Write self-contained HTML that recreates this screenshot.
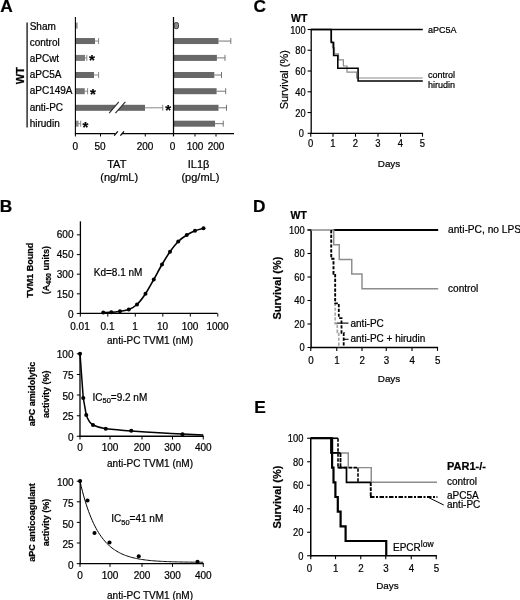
<!DOCTYPE html>
<html><head><meta charset="utf-8"><title>Figure</title>
<style>
html,body{margin:0;padding:0;background:#fff;}
svg{display:block;font-family:"Liberation Sans", sans-serif;}
text{stroke:#000;stroke-width:0.22px;}
</style></head><body>
<svg width="520" height="600" viewBox="0 0 520 600">
<defs><filter id="soft" x="0" y="0" width="520" height="600" filterUnits="userSpaceOnUse"><feGaussianBlur stdDeviation="0.36"/></filter></defs>
<rect width="520" height="600" fill="#fff"/>
<g filter="url(#soft)">
<text x="0.2" y="12.2" font-size="17.3" text-anchor="start" font-weight="bold" fill="#000">A</text>
<text x="-0.2" y="212.0" font-size="17.3" text-anchor="start" font-weight="bold" fill="#000">B</text>
<text x="253.4" y="12.35" font-size="17.3" text-anchor="start" font-weight="bold" fill="#000">C</text>
<text x="253" y="212" font-size="17.3" text-anchor="start" font-weight="bold" fill="#000">D</text>
<text x="254.2" y="413.3" font-size="17.3" text-anchor="start" font-weight="bold" fill="#000">E</text>
<line x1="27.1" y1="22.5" x2="27.1" y2="127.5" stroke="#222" stroke-width="1.4"/>
<text x="24.4" y="75.6" font-size="11" text-anchor="middle" font-weight="bold" transform="rotate(-90 24.4 75.6)" fill="#000">WT</text>
<text x="29.7" y="30" font-size="10" text-anchor="start" fill="#000">Sham</text>
<text x="29.7" y="45.7" font-size="10" text-anchor="start" fill="#000">control</text>
<text x="29.7" y="62.1" font-size="10" text-anchor="start" fill="#000">aPCwt</text>
<text x="29.7" y="78.1" font-size="10" text-anchor="start" fill="#000">aPC5A</text>
<text x="29.7" y="94.4" font-size="10" text-anchor="start" fill="#000">aPC149A</text>
<text x="29.7" y="110.6" font-size="10" text-anchor="start" fill="#000">anti-PC</text>
<text x="29.7" y="126.9" font-size="10" text-anchor="start" fill="#000">hirudin</text>
<rect x="75.4" y="22.6" width="2.1999999999999886" height="6" fill="#8a8a8a"/>
<rect x="75.4" y="38.05" width="19.599999999999994" height="6" fill="#676767"/>
<line x1="95" y1="41.05" x2="98.6" y2="41.05" stroke="#7a7a7a" stroke-width="0.9"/>
<line x1="98.6" y1="38.05" x2="98.6" y2="44.05" stroke="#7a7a7a" stroke-width="0.9"/>
<rect x="75.4" y="54.9" width="9.599999999999994" height="6" fill="#7a7a7a"/>
<line x1="85" y1="57.9" x2="86.8" y2="57.9" stroke="#7a7a7a" stroke-width="0.9"/>
<line x1="86.8" y1="54.9" x2="86.8" y2="60.9" stroke="#7a7a7a" stroke-width="0.9"/>
<rect x="75.4" y="72.0" width="18.599999999999994" height="6" fill="#676767"/>
<line x1="94" y1="75" x2="98.6" y2="75" stroke="#7a7a7a" stroke-width="0.9"/>
<line x1="98.6" y1="72" x2="98.6" y2="78" stroke="#7a7a7a" stroke-width="0.9"/>
<rect x="75.4" y="88.2" width="9.349999999999994" height="6" fill="#747474"/>
<line x1="84.75" y1="91.2" x2="87.6" y2="91.2" stroke="#7a7a7a" stroke-width="0.9"/>
<line x1="87.6" y1="88.2" x2="87.6" y2="94.2" stroke="#7a7a7a" stroke-width="0.9"/>
<rect x="75.4" y="104.8" width="69.6" height="6" fill="#676767"/>
<line x1="145" y1="107.8" x2="162.75" y2="107.8" stroke="#7a7a7a" stroke-width="0.9"/>
<line x1="162.75" y1="104.8" x2="162.75" y2="110.8" stroke="#7a7a7a" stroke-width="0.9"/>
<rect x="75.4" y="120.7" width="3.1999999999999886" height="6" fill="#8a8a8a"/>
<line x1="78.6" y1="123.7" x2="80.7" y2="123.7" stroke="#7a7a7a" stroke-width="0.9"/>
<line x1="80.7" y1="120.7" x2="80.7" y2="126.7" stroke="#7a7a7a" stroke-width="0.9"/>
<polygon points="109.2,113.1 118.8,101.9 125.4,101.9 115.4,113.1" fill="#fff"/>
<line x1="109.2" y1="113.1" x2="118.8" y2="101.9" stroke="#2a2a2a" stroke-width="1.1"/>
<line x1="115.4" y1="113.1" x2="125.4" y2="101.9" stroke="#2a2a2a" stroke-width="1.1"/>
<line x1="75.4" y1="17" x2="75.4" y2="134.2" stroke="#000" stroke-width="1.1"/>
<rect x="114.6" y="131.6" width="7.4" height="4" fill="#fff"/>
<line x1="74.9" y1="133.6" x2="115" y2="133.6" stroke="#000" stroke-width="1.3"/>
<line x1="121.9" y1="133.6" x2="234" y2="133.6" stroke="#000" stroke-width="1.3"/>
<line x1="114.2" y1="135.6" x2="117.8" y2="131.4" stroke="#000" stroke-width="1.25"/>
<line x1="120.4" y1="135.6" x2="124.0" y2="131.4" stroke="#000" stroke-width="1.25"/>
<line x1="75.4" y1="133.6" x2="75.4" y2="136.5" stroke="#000" stroke-width="1"/>
<line x1="100.5" y1="133.6" x2="100.5" y2="136.5" stroke="#000" stroke-width="1"/>
<line x1="145.25" y1="133.6" x2="145.25" y2="136.5" stroke="#000" stroke-width="1"/>
<text x="75.3" y="150" font-size="10" text-anchor="middle" fill="#000">0</text>
<text x="100" y="150" font-size="10" text-anchor="middle" fill="#000">50</text>
<text x="145" y="150" font-size="10" text-anchor="middle" fill="#000">200</text>
<text x="116.8" y="168" font-size="11" text-anchor="middle" fill="#000">TAT</text>
<text x="119.2" y="181" font-size="11" text-anchor="middle" fill="#000">(ng/mL)</text>
<text x="91.8" y="64.8" font-size="15" text-anchor="middle" font-weight="bold" fill="#000">*</text>
<text x="92.8" y="98.55" font-size="15" text-anchor="middle" font-weight="bold" fill="#000">*</text>
<text x="85.3" y="131.7" font-size="15" text-anchor="middle" font-weight="bold" fill="#000">*</text>
<text x="168.20000000000002" y="115.1" font-size="15" text-anchor="middle" font-weight="bold" fill="#000">*</text>
<rect x="174.1" y="22.5" width="4.4" height="6.2" rx="1.8" fill="#8a8a8a" stroke="#444" stroke-width="1"/>
<rect x="173.5" y="38.05" width="45.0" height="6" fill="#676767"/>
<line x1="218.5" y1="41.05" x2="230.8" y2="41.05" stroke="#666" stroke-width="0.9"/>
<line x1="230.8" y1="38.05" x2="230.8" y2="44.05" stroke="#666" stroke-width="0.9"/>
<rect x="173.5" y="54.9" width="43.400000000000006" height="6" fill="#676767"/>
<line x1="216.9" y1="57.9" x2="225" y2="57.9" stroke="#666" stroke-width="0.9"/>
<line x1="225" y1="54.9" x2="225" y2="60.9" stroke="#666" stroke-width="0.9"/>
<rect x="173.5" y="72.0" width="40.80000000000001" height="6" fill="#676767"/>
<line x1="214.3" y1="75" x2="221.5" y2="75" stroke="#666" stroke-width="0.9"/>
<line x1="221.5" y1="72" x2="221.5" y2="78" stroke="#666" stroke-width="0.9"/>
<rect x="173.5" y="88.2" width="43.099999999999994" height="6" fill="#676767"/>
<line x1="216.6" y1="91.2" x2="225.7" y2="91.2" stroke="#666" stroke-width="0.9"/>
<line x1="225.7" y1="88.2" x2="225.7" y2="94.2" stroke="#666" stroke-width="0.9"/>
<rect x="173.5" y="104.8" width="45.0" height="6" fill="#676767"/>
<line x1="218.5" y1="107.8" x2="226.5" y2="107.8" stroke="#666" stroke-width="0.9"/>
<line x1="226.5" y1="104.8" x2="226.5" y2="110.8" stroke="#666" stroke-width="0.9"/>
<rect x="173.5" y="120.7" width="41.5" height="6" fill="#676767"/>
<line x1="215" y1="123.7" x2="223.25" y2="123.7" stroke="#666" stroke-width="0.9"/>
<line x1="223.25" y1="120.7" x2="223.25" y2="126.7" stroke="#666" stroke-width="0.9"/>
<line x1="173.5" y1="17" x2="173.5" y2="136.4" stroke="#000" stroke-width="1.25"/>
<line x1="195" y1="133.6" x2="195" y2="136.5" stroke="#000" stroke-width="1"/>
<line x1="216" y1="133.6" x2="216" y2="136.5" stroke="#000" stroke-width="1"/>
<text x="172.5" y="150" font-size="10" text-anchor="middle" fill="#000">0</text>
<text x="195" y="150" font-size="10" text-anchor="middle" fill="#000">100</text>
<text x="216" y="150" font-size="10" text-anchor="middle" fill="#000">200</text>
<text x="198.6" y="168" font-size="11" text-anchor="middle" fill="#000">IL1β</text>
<text x="200.4" y="181" font-size="11" text-anchor="middle" fill="#000">(pg/mL)</text>
<text x="291" y="21.5" font-size="10.5" text-anchor="start" font-weight="bold" fill="#000">WT</text>
<line x1="307.59999999999997" y1="29.5" x2="311.2" y2="29.5" stroke="#000" stroke-width="1.1"/>
<text transform="translate(305.60 33.50) scale(0.9 1)" font-size="10.3" text-anchor="end" fill="#000">100</text>
<line x1="307.59999999999997" y1="50.260000000000005" x2="311.2" y2="50.260000000000005" stroke="#000" stroke-width="1.1"/>
<text transform="translate(305.60 54.26) scale(0.9 1)" font-size="10.3" text-anchor="end" fill="#000">80</text>
<line x1="307.59999999999997" y1="71.02000000000001" x2="311.2" y2="71.02000000000001" stroke="#000" stroke-width="1.1"/>
<text transform="translate(305.60 75.02) scale(0.9 1)" font-size="10.3" text-anchor="end" fill="#000">60</text>
<line x1="307.59999999999997" y1="91.78" x2="311.2" y2="91.78" stroke="#000" stroke-width="1.1"/>
<text transform="translate(305.60 95.78) scale(0.9 1)" font-size="10.3" text-anchor="end" fill="#000">40</text>
<line x1="307.59999999999997" y1="112.54" x2="311.2" y2="112.54" stroke="#000" stroke-width="1.1"/>
<text transform="translate(305.60 116.54) scale(0.9 1)" font-size="10.3" text-anchor="end" fill="#000">20</text>
<line x1="307.59999999999997" y1="133.3" x2="311.2" y2="133.3" stroke="#000" stroke-width="1.1"/>
<text transform="translate(304.00 137.30) scale(0.9 1)" font-size="10.3" text-anchor="end" fill="#000">0</text>
<line x1="310.75" y1="133.3" x2="310.75" y2="136.70000000000002" stroke="#000" stroke-width="1.1"/>
<text transform="translate(310.75 146.90) scale(0.92 1)" font-size="10.3" text-anchor="middle" fill="#000">0</text>
<line x1="333" y1="133.3" x2="333" y2="136.70000000000002" stroke="#000" stroke-width="1.1"/>
<text transform="translate(333.00 146.90) scale(0.92 1)" font-size="10.3" text-anchor="middle" fill="#000">1</text>
<line x1="355.5" y1="133.3" x2="355.5" y2="136.70000000000002" stroke="#000" stroke-width="1.1"/>
<text transform="translate(355.50 146.90) scale(0.92 1)" font-size="10.3" text-anchor="middle" fill="#000">2</text>
<line x1="378" y1="133.3" x2="378" y2="136.70000000000002" stroke="#000" stroke-width="1.1"/>
<text transform="translate(378.00 146.90) scale(0.92 1)" font-size="10.3" text-anchor="middle" fill="#000">3</text>
<line x1="400.5" y1="133.3" x2="400.5" y2="136.70000000000002" stroke="#000" stroke-width="1.1"/>
<text transform="translate(400.50 146.90) scale(0.92 1)" font-size="10.3" text-anchor="middle" fill="#000">4</text>
<line x1="422.5" y1="133.3" x2="422.5" y2="136.70000000000002" stroke="#000" stroke-width="1.1"/>
<text transform="translate(422.50 146.90) scale(0.92 1)" font-size="10.3" text-anchor="middle" fill="#000">5</text>
<line x1="311.2" y1="28.9" x2="311.2" y2="134.0" stroke="#000" stroke-width="1.3"/>
<line x1="310.5" y1="133.3" x2="423.1" y2="133.3" stroke="#000" stroke-width="1.3"/>
<text x="288.1" y="79.7" font-size="11" text-anchor="middle" transform="rotate(-90 288.1 79.7)" fill="#000">Survival (%)</text>
<text x="389" y="167" font-size="9.9" text-anchor="middle" fill="#000">Days</text>
<path d="M310.75,29.5 H330.75 V41.7 H332.5 V47.8 H334.5 V53.85 H338.5 V59.9 H343.4 V66 H347 V72.1 H356.6 V78.0 H422.8" fill="none" stroke="#8c8c8c" stroke-width="1.2"/>
<path d="M310.75,29.5 H331.3 V42.4 H333.6 V55.4 H337.8 V68.3 H358.1 V80.9 H422.8" fill="none" stroke="#000" stroke-width="1.55"/>
<line x1="310.75" y1="29.4" x2="422.8" y2="29.4" stroke="#000" stroke-width="1.5"/>
<text x="428" y="32.8" font-size="9" text-anchor="start" fill="#000">aPC5A</text>
<text x="428" y="78.2" font-size="9" text-anchor="start" fill="#000">control</text>
<text x="428" y="88" font-size="9" text-anchor="start" fill="#000">hirudin</text>
<text x="290.5" y="219.3" font-size="10.5" text-anchor="start" font-weight="bold" fill="#000">WT</text>
<line x1="307.5" y1="230.0" x2="311.1" y2="230.0" stroke="#000" stroke-width="1.1"/>
<text transform="translate(304.70 233.70) scale(0.9 1)" font-size="10.4" text-anchor="end" fill="#000">100</text>
<line x1="307.5" y1="253.5" x2="311.1" y2="253.5" stroke="#000" stroke-width="1.1"/>
<text transform="translate(304.70 257.20) scale(0.9 1)" font-size="10.4" text-anchor="end" fill="#000">80</text>
<line x1="307.5" y1="277.0" x2="311.1" y2="277.0" stroke="#000" stroke-width="1.1"/>
<text transform="translate(304.70 280.70) scale(0.9 1)" font-size="10.4" text-anchor="end" fill="#000">60</text>
<line x1="307.5" y1="300.5" x2="311.1" y2="300.5" stroke="#000" stroke-width="1.1"/>
<text transform="translate(304.70 304.20) scale(0.9 1)" font-size="10.4" text-anchor="end" fill="#000">40</text>
<line x1="307.5" y1="324.0" x2="311.1" y2="324.0" stroke="#000" stroke-width="1.1"/>
<text transform="translate(304.70 327.70) scale(0.9 1)" font-size="10.4" text-anchor="end" fill="#000">20</text>
<line x1="307.5" y1="347.5" x2="311.1" y2="347.5" stroke="#000" stroke-width="1.1"/>
<text transform="translate(304.70 351.20) scale(0.9 1)" font-size="10.4" text-anchor="end" fill="#000">0</text>
<line x1="310.75" y1="347.5" x2="310.75" y2="350.9" stroke="#000" stroke-width="1.1"/>
<text transform="translate(311.05 363.80) scale(0.93 1)" font-size="10.5" text-anchor="middle" fill="#000">0</text>
<line x1="336.75" y1="347.5" x2="336.75" y2="350.9" stroke="#000" stroke-width="1.1"/>
<text transform="translate(337.05 363.80) scale(0.93 1)" font-size="10.5" text-anchor="middle" fill="#000">1</text>
<line x1="362" y1="347.5" x2="362" y2="350.9" stroke="#000" stroke-width="1.1"/>
<text transform="translate(362.30 363.80) scale(0.93 1)" font-size="10.5" text-anchor="middle" fill="#000">2</text>
<line x1="386.25" y1="347.5" x2="386.25" y2="350.9" stroke="#000" stroke-width="1.1"/>
<text transform="translate(386.55 363.80) scale(0.93 1)" font-size="10.5" text-anchor="middle" fill="#000">3</text>
<line x1="412" y1="347.5" x2="412" y2="350.9" stroke="#000" stroke-width="1.1"/>
<text transform="translate(412.30 363.80) scale(0.93 1)" font-size="10.5" text-anchor="middle" fill="#000">4</text>
<line x1="437.5" y1="347.5" x2="437.5" y2="350.9" stroke="#000" stroke-width="1.1"/>
<text transform="translate(437.80 363.80) scale(0.93 1)" font-size="10.5" text-anchor="middle" fill="#000">5</text>
<line x1="311.1" y1="229.4" x2="311.1" y2="348.2" stroke="#000" stroke-width="1.5"/>
<line x1="310.40000000000003" y1="347.5" x2="438.1" y2="347.5" stroke="#000" stroke-width="1.5"/>
<text x="280.8" y="288" font-size="11" text-anchor="middle" font-weight="bold" transform="rotate(-90 280.8 288)" fill="#000">Survival (%)</text>
<text x="389.0" y="381.8" font-size="9.9" text-anchor="middle" fill="#000">Days</text>
<line x1="333" y1="230" x2="438.2" y2="230" stroke="#000" stroke-width="1.95"/>
<path d="M310.75,230 H333.75 V244.7 H339.25 V259.4 H351.75 V274 H362 V288.75 H438.2" fill="none" stroke="#8c8c8c" stroke-width="1.45"/>
<path d="M331.25,230 V258.75 H333.5 V273.75 H335.2 V323.7 H337.3 V332.4 H338.8 V347.5" fill="none" stroke="#a8a8a8" stroke-width="1.7" stroke-dasharray="3.2 1.6"/>
<path d="M331.25,230 V258.75 H333.5 V273.75 H335.2 V303.4 H338.8 V318.1 H341.5 V332.8 H343.7 V347.5" fill="none" stroke="#000" stroke-width="1.8" stroke-dasharray="3.2 1.6"/>
<line x1="307.5" y1="230" x2="311.1" y2="230" stroke="#000" stroke-width="1.1"/>
<line x1="336.6" y1="323.1" x2="348.5" y2="323.1" stroke="#000" stroke-width="1.1"/>
<text x="350.5" y="326.8" font-size="10" text-anchor="start" fill="#000">anti-PC</text>
<line x1="343.1" y1="339.3" x2="348.5" y2="339.3" stroke="#000" stroke-width="1.1"/>
<text x="350.5" y="341.8" font-size="10" text-anchor="start" fill="#000">anti-PC + hirudin</text>
<text x="448" y="232.8" font-size="10.2" text-anchor="start" fill="#000">anti-PC, no LPS</text>
<text x="448" y="291.6" font-size="10.1" text-anchor="start" fill="#000">control</text>
<line x1="307.15" y1="438.25" x2="310.75" y2="438.25" stroke="#000" stroke-width="1.1"/>
<text transform="translate(303.45 442.45) scale(0.9 1)" font-size="10.4" text-anchor="end" fill="#000">100</text>
<line x1="307.15" y1="461.75" x2="310.75" y2="461.75" stroke="#000" stroke-width="1.1"/>
<text transform="translate(303.45 465.95) scale(0.9 1)" font-size="10.4" text-anchor="end" fill="#000">80</text>
<line x1="307.15" y1="485.25" x2="310.75" y2="485.25" stroke="#000" stroke-width="1.1"/>
<text transform="translate(303.45 489.45) scale(0.9 1)" font-size="10.4" text-anchor="end" fill="#000">60</text>
<line x1="307.15" y1="508.75" x2="310.75" y2="508.75" stroke="#000" stroke-width="1.1"/>
<text transform="translate(303.45 512.95) scale(0.9 1)" font-size="10.4" text-anchor="end" fill="#000">40</text>
<line x1="307.15" y1="532.25" x2="310.75" y2="532.25" stroke="#000" stroke-width="1.1"/>
<text transform="translate(303.45 536.45) scale(0.9 1)" font-size="10.4" text-anchor="end" fill="#000">20</text>
<line x1="307.15" y1="555.75" x2="310.75" y2="555.75" stroke="#000" stroke-width="1.1"/>
<text transform="translate(303.45 559.95) scale(0.9 1)" font-size="10.4" text-anchor="end" fill="#000">0</text>
<line x1="310.75" y1="555.75" x2="310.75" y2="559.15" stroke="#000" stroke-width="1.1"/>
<text transform="translate(309.55 572.25) scale(0.93 1)" font-size="10.5" text-anchor="middle" fill="#000">0</text>
<line x1="335.5" y1="555.75" x2="335.5" y2="559.15" stroke="#000" stroke-width="1.1"/>
<text transform="translate(335.80 572.25) scale(0.93 1)" font-size="10.5" text-anchor="middle" fill="#000">1</text>
<line x1="360.75" y1="555.75" x2="360.75" y2="559.15" stroke="#000" stroke-width="1.1"/>
<text transform="translate(361.05 572.25) scale(0.93 1)" font-size="10.5" text-anchor="middle" fill="#000">2</text>
<line x1="385.75" y1="555.75" x2="385.75" y2="559.15" stroke="#000" stroke-width="1.1"/>
<text transform="translate(386.05 572.25) scale(0.93 1)" font-size="10.5" text-anchor="middle" fill="#000">3</text>
<line x1="411.25" y1="555.75" x2="411.25" y2="559.15" stroke="#000" stroke-width="1.1"/>
<text transform="translate(411.55 572.25) scale(0.93 1)" font-size="10.5" text-anchor="middle" fill="#000">4</text>
<line x1="436.25" y1="555.75" x2="436.25" y2="559.15" stroke="#000" stroke-width="1.1"/>
<text transform="translate(436.55 572.25) scale(0.93 1)" font-size="10.5" text-anchor="middle" fill="#000">5</text>
<line x1="310.75" y1="437.65" x2="310.75" y2="556.45" stroke="#000" stroke-width="1.5"/>
<line x1="310.05" y1="555.75" x2="436.85" y2="555.75" stroke="#000" stroke-width="1.5"/>
<text x="280.8" y="497" font-size="11" text-anchor="middle" font-weight="bold" transform="rotate(-90 280.8 497)" fill="#000">Survival (%)</text>
<text x="387.4" y="589.3" font-size="9.9" text-anchor="middle" fill="#000">Days</text>
<path d="M310.75,438.25 H330.75 V452.9 H348.25 V467.6 H371.25 V482.3 H437" fill="none" stroke="#8c8c8c" stroke-width="1.45"/>
<path d="M310.75,438.25 H331 V452.9 H340.5" fill="none" stroke="#000" stroke-width="1.7"/>
<path d="M340.5,452.9 V467.6" fill="none" stroke="#000" stroke-width="1.8" stroke-dasharray="4.2 1"/>
<path d="M337.5,467.6 H346.5 V482.3 H370.75" fill="none" stroke="#000" stroke-width="1.7"/>
<path d="M310.75,438.25 H338 " fill="none" stroke="#000" stroke-width="1.6"/>
<path d="M338,438.25 V467.6 H358 V482.3" fill="none" stroke="#000" stroke-width="1.6" stroke-dasharray="3.4 1.6"/>
<path d="M370.75,482.3 V497" fill="none" stroke="#000" stroke-width="1.9" stroke-dasharray="3.6 1.4"/>
<path d="M370,497 H437.4" fill="none" stroke="#000" stroke-width="2.15" stroke-dasharray="4.5 1.5 2.0 1.5"/>
<path d="M310.75,438.25 H332.1 V467.6 H333.5 V482.3 H335.4 V497 H337.8 V511.7 H340.6 V526.4 H345.6 V541 H386.25 V555.75" fill="none" stroke="#000" stroke-width="2.2"/>
<text x="447" y="469.6" font-size="11" text-anchor="start" font-weight="bold" fill="#000">PAR1-/-</text>
<text x="447" y="484.8" font-size="10" text-anchor="start" fill="#000">control</text>
<text x="447" y="498.6" font-size="10" text-anchor="start" fill="#000">aPC5A</text>
<text x="447" y="508" font-size="10" text-anchor="start" fill="#000">anti-PC</text>
<line x1="427.5" y1="497" x2="443.75" y2="505" stroke="#000" stroke-width="1"/>
<text x="393" y="551" font-size="10" fill="#000">EPCR<tspan font-size="8.5" dy="-3.8">low</tspan></text>
<line x1="80.4" y1="221.3" x2="80.4" y2="314.1" stroke="#000" stroke-width="1.3"/>
<line x1="79.8" y1="313.45" x2="217.5" y2="313.45" stroke="#000" stroke-width="1.3"/>
<line x1="76.8" y1="234.85" x2="80.4" y2="234.85" stroke="#000" stroke-width="1"/>
<text x="73.5" y="237.95" font-size="10" text-anchor="end" fill="#000">600</text>
<line x1="76.8" y1="254.6" x2="80.4" y2="254.6" stroke="#000" stroke-width="1"/>
<text x="73.5" y="258.3" font-size="10" text-anchor="end" fill="#000">450</text>
<line x1="76.8" y1="274.2" x2="80.4" y2="274.2" stroke="#000" stroke-width="1"/>
<text x="73.5" y="278.3" font-size="10" text-anchor="end" fill="#000">300</text>
<line x1="76.8" y1="293.8" x2="80.4" y2="293.8" stroke="#000" stroke-width="1"/>
<text x="73.5" y="298.3" font-size="10" text-anchor="end" fill="#000">150</text>
<line x1="76.8" y1="313.45" x2="80.4" y2="313.45" stroke="#000" stroke-width="1"/>
<text x="73.5" y="317.75" font-size="10" text-anchor="end" fill="#000">0</text>
<line x1="80.3" y1="313.45" x2="80.3" y2="316.6" stroke="#000" stroke-width="1"/>
<text x="80.0" y="329.8" font-size="10" text-anchor="middle" fill="#000">0.01</text>
<line x1="107.8" y1="313.45" x2="107.8" y2="316.6" stroke="#000" stroke-width="1"/>
<text x="107.5" y="329.8" font-size="10" text-anchor="middle" fill="#000">0.1</text>
<line x1="135.3" y1="313.45" x2="135.3" y2="316.6" stroke="#000" stroke-width="1"/>
<text x="135.0" y="329.8" font-size="10" text-anchor="middle" fill="#000">1</text>
<line x1="162.8" y1="313.45" x2="162.8" y2="316.6" stroke="#000" stroke-width="1"/>
<text x="162.5" y="329.8" font-size="10" text-anchor="middle" fill="#000">10</text>
<line x1="190.3" y1="313.45" x2="190.3" y2="316.6" stroke="#000" stroke-width="1"/>
<text x="190.0" y="329.8" font-size="10" text-anchor="middle" fill="#000">100</text>
<line x1="217.8" y1="313.45" x2="217.8" y2="316.6" stroke="#000" stroke-width="1"/>
<text x="217.5" y="329.8" font-size="10" text-anchor="middle" fill="#000">1000</text>
<text x="150" y="343.6" font-size="10" text-anchor="middle" fill="#000">anti-PC TVM1 (nM)</text>
<text x="33.5" y="270.3" font-size="9" text-anchor="middle" font-weight="bold" transform="rotate(-90 33.5 270.3)" fill="#000">TVM1 Bound</text>
<text x="49.4" y="270.1" font-size="9" font-weight="bold" text-anchor="middle" transform="rotate(-90 49.4 270.1)" fill="#000">(A<tspan font-size="7" dy="2">450</tspan><tspan dy="-2"> units)</tspan></text>
<text x="93.75" y="275.8" font-size="10" text-anchor="start" fill="#000">Kd=8.1 nM</text>
<path d="M103.25,312.50 C104.58,312.47 108.46,312.51 111.25,312.30 C114.04,312.09 117.08,311.72 120.00,311.25 C122.92,310.78 125.92,310.62 128.75,309.50 C131.58,308.38 134.21,307.12 137.00,304.50 C139.79,301.88 142.71,297.92 145.50,293.75 C148.29,289.58 151.00,284.38 153.75,279.50 C156.50,274.62 159.29,269.12 162.00,264.50 C164.71,259.88 167.29,255.58 170.00,251.75 C172.71,247.92 175.46,244.29 178.25,241.50 C181.04,238.71 183.96,236.79 186.75,235.00 C189.54,233.21 192.21,231.88 195.00,230.75 C197.79,229.62 202.08,228.67 203.50,228.25" fill="none" stroke="#000" stroke-width="1.6"/>
<circle cx="103.25" cy="312.50" r="2.0" fill="#000"/>
<circle cx="111.25" cy="312.30" r="2.0" fill="#000"/>
<circle cx="120.00" cy="311.25" r="2.0" fill="#000"/>
<circle cx="128.75" cy="309.50" r="2.0" fill="#000"/>
<circle cx="137.00" cy="304.50" r="2.0" fill="#000"/>
<circle cx="145.50" cy="293.75" r="2.0" fill="#000"/>
<circle cx="153.75" cy="279.50" r="2.0" fill="#000"/>
<circle cx="162.00" cy="264.50" r="2.0" fill="#000"/>
<circle cx="170.00" cy="251.75" r="2.0" fill="#000"/>
<circle cx="178.25" cy="241.50" r="2.0" fill="#000"/>
<circle cx="186.75" cy="235.00" r="2.0" fill="#000"/>
<circle cx="195.00" cy="230.75" r="2.0" fill="#000"/>
<circle cx="203.50" cy="228.25" r="2.0" fill="#000"/>
<line x1="80" y1="353.2" x2="80" y2="436.9" stroke="#000" stroke-width="1.3"/>
<line x1="79.4" y1="436.25" x2="203.8" y2="436.25" stroke="#000" stroke-width="1.3"/>
<line x1="76.8" y1="353.75" x2="80" y2="353.75" stroke="#000" stroke-width="1"/>
<text x="73.5" y="358.35" font-size="10" text-anchor="end" fill="#000">100</text>
<line x1="76.8" y1="374.5" x2="80" y2="374.5" stroke="#000" stroke-width="1"/>
<text x="73.5" y="379.1" font-size="10" text-anchor="end" fill="#000">75</text>
<line x1="76.8" y1="395" x2="80" y2="395" stroke="#000" stroke-width="1"/>
<text x="73.5" y="399.6" font-size="10" text-anchor="end" fill="#000">50</text>
<line x1="76.8" y1="415.75" x2="80" y2="415.75" stroke="#000" stroke-width="1"/>
<text x="73.5" y="420.35" font-size="10" text-anchor="end" fill="#000">25</text>
<line x1="76.8" y1="436.25" x2="80" y2="436.25" stroke="#000" stroke-width="1"/>
<text x="73.5" y="440.85" font-size="10" text-anchor="end" fill="#000">0</text>
<line x1="80" y1="436.25" x2="80" y2="439.5" stroke="#000" stroke-width="1"/>
<text x="80" y="450.8" font-size="10" text-anchor="middle" fill="#000">0</text>
<line x1="110" y1="436.25" x2="110" y2="439.5" stroke="#000" stroke-width="1"/>
<text x="110" y="450.8" font-size="10" text-anchor="middle" fill="#000">100</text>
<line x1="142" y1="436.25" x2="142" y2="439.5" stroke="#000" stroke-width="1"/>
<text x="142" y="450.8" font-size="10" text-anchor="middle" fill="#000">200</text>
<line x1="172.5" y1="436.25" x2="172.5" y2="439.5" stroke="#000" stroke-width="1"/>
<text x="172.5" y="450.8" font-size="10" text-anchor="middle" fill="#000">300</text>
<line x1="203.25" y1="436.25" x2="203.25" y2="439.5" stroke="#000" stroke-width="1"/>
<text x="203.25" y="450.8" font-size="10" text-anchor="middle" fill="#000">400</text>
<text x="150" y="466.6" font-size="10" text-anchor="middle" fill="#000">anti-PC TVM1 (nM)</text>
<text x="35.2" y="393.9" font-size="9" text-anchor="middle" font-weight="bold" transform="rotate(-90 35.2 393.9)" fill="#000">aPC amidolytic</text>
<text x="49.2" y="394.2" font-size="9" text-anchor="middle" font-weight="bold" transform="rotate(-90 49.2 394.2)" fill="#000">activity (%)</text>
<text x="92.5" y="401" font-size="10" fill="#000">IC<tspan font-size="7.5" dy="2.2">50</tspan><tspan dy="-2.2">=9.2 nM</tspan></text>
<path d="M80,353.75 L83.25,398 L86.25,415 C88,420 90,423.3 93,425 C97,427 101,428 105.75,428.75 C115,429.8 122,430.3 131.25,430.9 C150,432.2 168,433.3 182.5,434 L203.25,435" fill="none" stroke="#000" stroke-width="1.5"/>
<circle cx="80.00" cy="353.75" r="2.05" fill="#000"/>
<circle cx="83.25" cy="398.00" r="2.05" fill="#000"/>
<circle cx="86.25" cy="415.00" r="2.05" fill="#000"/>
<circle cx="93.00" cy="425.00" r="2.05" fill="#000"/>
<circle cx="105.75" cy="428.75" r="2.05" fill="#000"/>
<circle cx="131.25" cy="430.75" r="2.05" fill="#000"/>
<circle cx="182.50" cy="434.25" r="2.05" fill="#000"/>
<line x1="80.2" y1="480.6" x2="80.2" y2="564.3" stroke="#000" stroke-width="1.3"/>
<line x1="79.6" y1="563.65" x2="203.8" y2="563.65" stroke="#000" stroke-width="1.3"/>
<line x1="76.8" y1="481.2" x2="80.2" y2="481.2" stroke="#000" stroke-width="1"/>
<text x="73.6" y="486.4" font-size="10" text-anchor="end" fill="#000">100</text>
<line x1="76.8" y1="501.8" x2="80.2" y2="501.8" stroke="#000" stroke-width="1"/>
<text x="73.6" y="507.0" font-size="10" text-anchor="end" fill="#000">75</text>
<line x1="76.8" y1="522.4" x2="80.2" y2="522.4" stroke="#000" stroke-width="1"/>
<text x="73.6" y="527.6" font-size="10" text-anchor="end" fill="#000">50</text>
<line x1="76.8" y1="543" x2="80.2" y2="543" stroke="#000" stroke-width="1"/>
<text x="73.6" y="548.2" font-size="10" text-anchor="end" fill="#000">25</text>
<line x1="76.8" y1="563.65" x2="80.2" y2="563.65" stroke="#000" stroke-width="1"/>
<text x="73.6" y="568.85" font-size="10" text-anchor="end" fill="#000">0</text>
<line x1="80" y1="563.65" x2="80" y2="566.9" stroke="#000" stroke-width="1"/>
<text x="80" y="578.6" font-size="10" text-anchor="middle" fill="#000">0</text>
<line x1="110" y1="563.65" x2="110" y2="566.9" stroke="#000" stroke-width="1"/>
<text x="110" y="578.6" font-size="10" text-anchor="middle" fill="#000">100</text>
<line x1="142" y1="563.65" x2="142" y2="566.9" stroke="#000" stroke-width="1"/>
<text x="142" y="578.6" font-size="10" text-anchor="middle" fill="#000">200</text>
<line x1="172.5" y1="563.65" x2="172.5" y2="566.9" stroke="#000" stroke-width="1"/>
<text x="172.5" y="578.6" font-size="10" text-anchor="middle" fill="#000">300</text>
<line x1="203.25" y1="563.65" x2="203.25" y2="566.9" stroke="#000" stroke-width="1"/>
<text x="203.25" y="578.6" font-size="10" text-anchor="middle" fill="#000">400</text>
<text x="150" y="598.6" font-size="10" text-anchor="middle" fill="#000">anti-PC TVM1 (nM)</text>
<text x="34.8" y="522.4" font-size="9" text-anchor="middle" font-weight="bold" transform="rotate(-90 34.8 522.4)" fill="#000">aPC anticoagulant</text>
<text x="49.1" y="522.5" font-size="9" text-anchor="middle" font-weight="bold" transform="rotate(-90 49.1 522.5)" fill="#000">activity (%)</text>
<text x="111.25" y="522.3" font-size="10" fill="#000">IC<tspan font-size="7.5" dy="2.2">50</tspan><tspan dy="-2.2">=41 nM</tspan></text>
<path d="M80.00,481.20 L81.23,486.43 L82.46,491.33 L83.70,495.91 L84.93,500.19 L86.16,504.20 L87.39,507.95 L88.62,511.45 L89.86,514.74 L91.09,517.81 L92.32,520.68 L93.55,523.36 L94.78,525.88 L96.02,528.23 L97.25,530.43 L98.48,532.48 L99.71,534.41 L100.94,536.21 L102.18,537.89 L103.41,539.47 L104.64,540.94 L105.87,542.32 L107.10,543.61 L108.34,544.82 L109.57,545.95 L110.80,547.01 L112.03,548.00 L113.26,548.92 L114.50,549.78 L115.73,550.59 L116.96,551.35 L118.19,552.06 L119.42,552.72 L120.66,553.34 L121.89,553.92 L123.12,554.46 L124.35,554.97 L125.58,555.45 L126.82,555.89 L128.05,556.30 L129.28,556.69 L130.51,557.06 L131.74,557.40 L132.98,557.72 L134.21,558.01 L135.44,558.29 L136.67,558.55 L137.90,558.80 L139.14,559.02 L140.37,559.24 L141.60,559.44 L142.83,559.62 L144.06,559.80 L145.30,559.96 L146.53,560.11 L147.76,560.26 L148.99,560.39 L150.22,560.52 L151.46,560.63 L152.69,560.74 L153.92,560.84 L155.15,560.94 L156.38,561.03 L157.62,561.11 L158.85,561.19 L160.08,561.27 L161.31,561.33 L162.54,561.40 L163.78,561.46 L165.01,561.52 L166.24,561.57 L167.47,561.62 L168.70,561.66 L169.94,561.71 L171.17,561.75 L172.40,561.78 L173.63,561.82 L174.86,561.85 L176.10,561.88 L177.33,561.91 L178.56,561.94 L179.79,561.96 L181.02,561.99 L182.26,562.01 L183.49,562.03 L184.72,562.05 L185.95,562.07 L187.18,562.09 L188.42,562.10 L189.65,562.12 L190.88,562.13 L192.11,562.14 L193.34,562.15 L194.58,562.17 L195.81,562.18 L197.04,562.19 L198.27,562.20 L199.50,562.20 L200.74,562.21 L201.97,562.22 L203.20,562.23" fill="none" stroke="#000" stroke-width="1.0"/>
<circle cx="80.10" cy="481.10" r="2.05" fill="#000"/>
<circle cx="87.50" cy="500.50" r="2.05" fill="#000"/>
<circle cx="94.50" cy="533.00" r="2.05" fill="#000"/>
<circle cx="109.50" cy="542.50" r="2.05" fill="#000"/>
<circle cx="138.75" cy="556.25" r="2.05" fill="#000"/>
<circle cx="197.50" cy="561.75" r="2.05" fill="#000"/>
</g>
</svg>
</body></html>
